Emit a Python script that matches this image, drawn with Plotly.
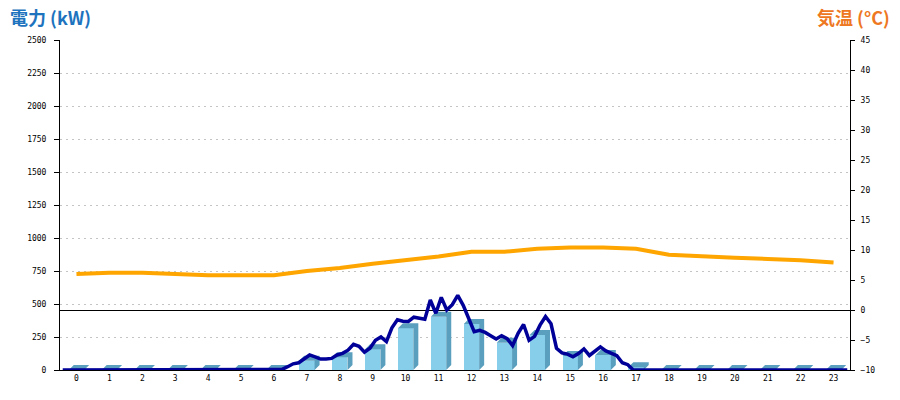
import plotly.graph_objects as go

# ---------------- data ----------------
hours = list(range(24))
hour_labels = [str(h) for h in hours]

# hourly energy bars (kW)
bar_kw = [0, 0, 0, 0, 0, 0, 0, 70, 96, 157, 316, 404,
          348, 207, 265, 106, 114, 20, 0, 0, 0, 0, 0, 0]

# hourly temperature (°C)
temp_c = [6.0, 6.2, 6.2, 6.0, 5.8, 5.8, 5.8, 6.5, 7.0, 7.7, 8.3, 8.9,
          9.7, 9.7, 10.2, 10.4, 10.4, 10.2, 9.2, 8.9, 8.7, 8.5, 8.3, 7.9]

# 10-minute power readings (kW), six per hour
power_10min = [
    0, 0, 0, 0, 0, 0,            # 0
    0, 0, 0, 0, 0, 0,            # 1
    0, 0, 0, 0, 0, 0,            # 2
    0, 0, 0, 0, 0, 0,            # 3
    0, 0, 0, 0, 0, 0,            # 4
    0, 0, 0, 0, 0, 0,            # 5
    0, 0, 0, 0, 5, 25,           # 6
    47, 55, 83, 114, 99, 83,     # 7
    83, 88, 114, 126, 150, 195,  # 8
    180, 135, 165, 225, 250, 215,  # 9
    320, 380, 370, 368, 400, 390,  # 10
    385, 530, 430, 550, 455, 495,  # 11
    565, 490, 395, 290, 300, 285,  # 12
    260, 235, 260, 238, 185, 278,  # 13
    345, 225, 255, 340, 405, 350,  # 14
    165, 130, 120, 100, 125, 160,  # 15
    110, 140, 175, 145, 125, 108,  # 16
    55, 40, 0, 0, 0, 0,          # 17
    0, 0, 0, 0, 0, 0,            # 18
    0, 0, 0, 0, 0, 0,            # 19
    0, 0, 0, 0, 0, 0,            # 20
    0, 0, 0, 0, 0, 0,            # 21
    0, 0, 0, 0, 0, 0,            # 22
    0, 0, 0, 0, 0, 0,            # 23
]
power_minutes = list(range(0, 24 * 60, 10))

# ---------------- layout geometry ----------------
W, H = 900, 400
ML, MR, MT, MB = 60, 50, 40, 30
PW, PH = W - ML - MR, H - MT - MB
Y_MAX = 2500
T_MIN, T_MAX = -10, 45

px_per_x = PW / 24.0
px_per_kw = PH / Y_MAX
depth_px = 5
dx = depth_px / px_per_x
dy = depth_px / px_per_kw
half_w = 7.7 / px_per_x

front_color = "#87CEEB"
side_color = "#5B9FBE"

fig = go.Figure()

# front faces
fig.add_trace(go.Bar(
    x=hours, y=bar_kw, width=2 * half_w,
    marker=dict(color=front_color, line=dict(width=0)),
    yaxis="y", showlegend=False, hoverinfo="skip"))

# side + top faces (3D effect) derived from bar data
sx, sy = [], []
for h, v in zip(hours, bar_kw):
    r = h + half_w
    l = h - half_w
    sx += [r, r + dx, r + dx, r, r, None]
    sy += [0, dy, v + dy, v, 0, None]
    sx += [l, l + dx, r + dx, r, l, None]
    sy += [v, v + dy, v + dy, v, v, None]
fig.add_trace(go.Scatter(
    x=sx, y=sy, mode="lines", fill="toself", fillcolor=side_color,
    line=dict(width=0, color=side_color), yaxis="y",
    showlegend=False, hoverinfo="skip"))

# power line
px_x = [(m + 5) / 60.0 - 0.5 for m in power_minutes]
fig.add_trace(go.Scatter(
    x=px_x, y=power_10min, mode="lines",
    line=dict(color="#000099", width=3.5), yaxis="y",
    cliponaxis=False, showlegend=False, hoverinfo="skip"))

# temperature line
fig.add_trace(go.Scatter(
    x=hours, y=temp_c, mode="lines",
    line=dict(color="#FFA500", width=4), yaxis="y2",
    showlegend=False, hoverinfo="skip"))

tick_font = dict(family="DejaVu Sans Mono", size=8, color="#000000")

fig.update_layout(
    width=W, height=H,
    margin=dict(l=ML, r=MR, t=MT, b=MB, autoexpand=False),
    paper_bgcolor="white", plot_bgcolor="white",
    bargap=0,
    xaxis=dict(
        range=[-0.5, 23.5], tickmode="array", tickvals=hours,
        ticktext=hour_labels, ticks="", showgrid=False, zeroline=False,
        showline=True, linecolor="black", linewidth=1,
        tickfont=tick_font, fixedrange=True),
    yaxis=dict(
        range=[0, Y_MAX], dtick=250, tick0=0,
        ticks="outside", ticklen=5, tickcolor="black", tickwidth=1,
        showline=True, linecolor="black", linewidth=1,
        showgrid=True, gridcolor="#c4c4c4", griddash="2px,4px", gridwidth=1,
        zeroline=False, tickfont=tick_font, ticklabelstandoff=6),
    yaxis2=dict(
        range=[T_MIN, T_MAX], dtick=5, tick0=0, overlaying="y", side="right",
        ticks="outside", ticklen=4, tickcolor="black", tickwidth=1,
        showline=True, linecolor="black", linewidth=1,
        showgrid=False, zeroline=True, zerolinecolor="black", zerolinewidth=1,
        tickfont=tick_font, ticklabelstandoff=4),
)

fig.add_annotation(
    text="<b>電力 (kW)</b>", xref="paper", yref="paper",
    x=(8 - ML) / PW, y=1 + (MT - 17) / PH, xanchor="left", yanchor="middle",
    showarrow=False,
    font=dict(family="Noto Sans CJK JP", size=18, color="#1E73BE"))
fig.add_annotation(
    text="<b>気温 (°C)</b>", xref="paper", yref="paper",
    x=(892 - ML) / PW, y=1 + (MT - 17) / PH, xanchor="right", yanchor="middle",
    showarrow=False,
    font=dict(family="Noto Sans CJK JP", size=18, color="#EE7722"))

fig.write_html(
    "out.html",
    config={"displayModeBar": False},
    post_script="document.body.style.margin='0';document.body.style.overflow='hidden';")
